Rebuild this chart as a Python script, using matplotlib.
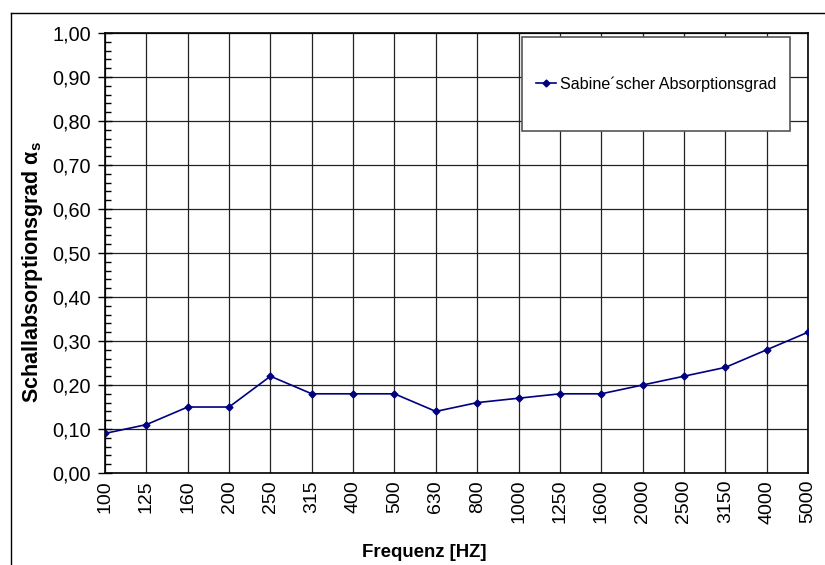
import numpy as np
import matplotlib as mpl
import matplotlib.pyplot as plt
from matplotlib.lines import Line2D
from matplotlib.patches import Rectangle
from matplotlib.ticker import MultipleLocator

mpl.rc('font', family='Liberation Sans')

frequenzen = ['100', '125', '160', '200', '250', '315', '400', '500', '630', '800',
              '1000', '1250', '1600', '2000', '2500', '3150', '4000', '5000']
alpha_s = [0.09, 0.11, 0.15, 0.15, 0.22, 0.18, 0.18, 0.18, 0.14, 0.16,
           0.17, 0.18, 0.18, 0.20, 0.22, 0.24, 0.28, 0.32]
serie = 'Sabine´scher Absorptionsgrad'

fig = plt.figure(figsize=(8.25, 5.65), dpi=100)
ax = fig.add_axes([0.1273, 0.1628, 0.8521, 0.7788])

x = np.arange(len(frequenzen))
ax.plot(x, alpha_s, color='#000080', linewidth=1.2, marker='D', markersize=3.5,
        label=serie, zorder=3)

ax.set_xlim(0, len(frequenzen) - 1)
ax.set_ylim(0, 1.0)
ax.set_xticks(x, frequenzen, rotation=90)
yt = np.round(np.arange(0, 1.01, 0.1), 2)
ax.set_yticks(yt, [f'{v:.2f}'.replace('.', ',') for v in yt])
ax.yaxis.set_minor_locator(MultipleLocator(0.02))

ax.grid(True, which='major', color='#222222', linewidth=0.9)
ax.tick_params(axis='x', length=0, pad=5, labelsize=14)
ax.tick_params(axis='y', which='major', direction='inout', length=10, width=1,
               pad=5, labelsize=14.3)
ax.tick_params(axis='y', which='minor', direction='in', length=4, width=1)
for s in ax.spines.values():
    s.set_linewidth(1.2)
    s.set_color('black')

# Legende mit eigenem Rahmen
box = Rectangle((0.593, 0.777), 0.381, 0.214, transform=ax.transAxes,
                facecolor='white', edgecolor='#555555', linewidth=1.2, zorder=4)
ax.add_patch(box)
leg = ax.legend(loc='center', bbox_to_anchor=(0.593, 0.777, 0.381, 0.214),
                frameon=False, fontsize=11.6, handlelength=1.3, handletextpad=0.2)
leg.set_zorder(5)

fig.text(0.514, 0.022, 'Frequenz [HZ]', ha='center', va='center',
         fontsize=13.4, fontweight='bold')
fig.text(0.040, 0.519, 'Schallabsorptionsgrad α$_\\mathregular{s}$', ha='center',
         va='center', rotation=90, fontsize=15.5, fontweight='bold')

# Rahmen um das Diagramm
fig.add_artist(Line2D([0.0133, 1.0], [0.977, 0.977], color='black', linewidth=1))
fig.add_artist(Line2D([0.0133, 0.0133], [0.0, 0.977], color='black', linewidth=1))

plt.savefig('out.png', dpi=100)
